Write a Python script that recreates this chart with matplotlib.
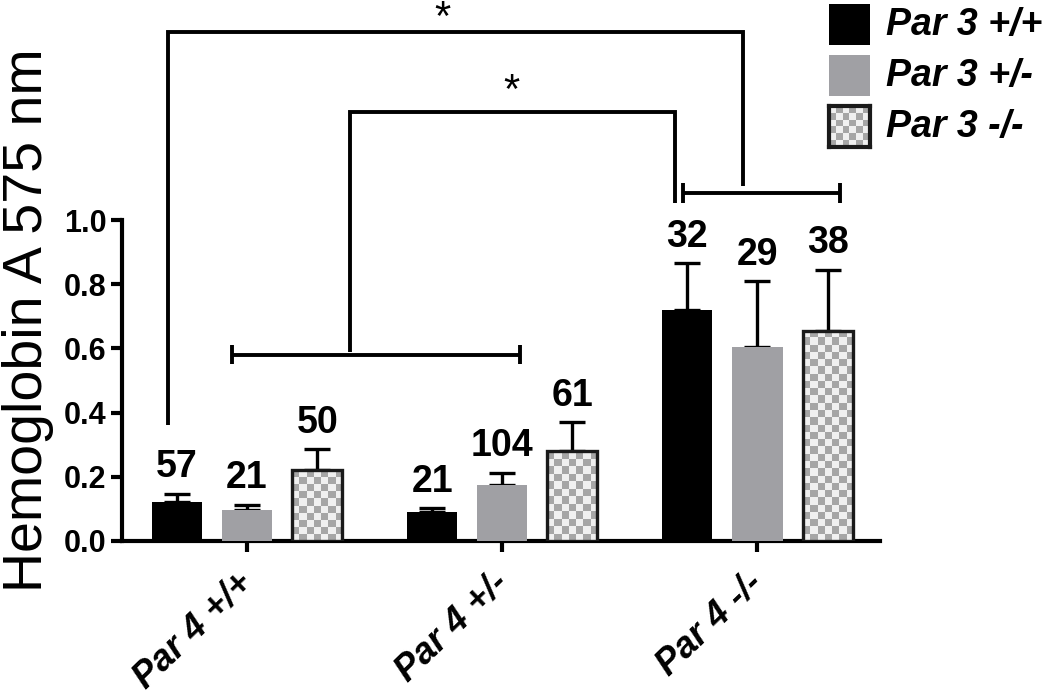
import numpy as np
import matplotlib
matplotlib.use("Agg")
import matplotlib.pyplot as plt
from matplotlib.patches import Rectangle
from matplotlib.colors import ListedColormap
import matplotlib.transforms as mtransforms

plt.rcParams['font.family'] = ['Liberation Sans', 'DejaVu Sans']

groups = ["Par 4 +/+", "Par 4 +/-", "Par 4 -/-"]
series = ["Par 3 +/+", "Par 3 +/-", "Par 3 -/-"]
means = {
    "Par 3 +/+": [0.12, 0.09, 0.72],
    "Par 3 +/-": [0.097, 0.175, 0.605],
    "Par 3 -/-": [0.22, 0.28, 0.655],
}
err_top = {
    "Par 3 +/+": [0.147, 0.102, 0.865],
    "Par 3 +/-": [0.113, 0.213, 0.81],
    "Par 3 -/-": [0.287, 0.37, 0.845],
}
counts = {
    "Par 3 +/+": [57, 21, 32],
    "Par 3 +/-": [21, 104, 29],
    "Par 3 -/-": [50, 61, 38],
}
yticks = [0.0, 0.2, 0.4, 0.6, 0.8, 1.0]

GREY = '#a0a0a4'
CHK_DARK = '#a6a6a6'
CHK_LIGHT = '#f0f0f0'

fig = plt.figure(figsize=(10.5, 6.99), dpi=100)
ax = fig.add_axes([122/1050, 1-541/699, (880-122)/1050, (541-220)/699])

x = np.arange(len(groups))
offset = 0.275
width = 0.196

def checker(nx, ny):
    return (np.add.outer(np.arange(ny), np.arange(nx)) % 2).astype(float)

cmap = ListedColormap([CHK_LIGHT, CHK_DARK])

for i, s in enumerate(series):
    xs = x + (i - 1) * offset
    m = np.array(means[s])
    e = np.array(err_top[s]) - m
    ax.errorbar(xs, m, yerr=[np.zeros_like(m), e], fmt='none', ecolor='black',
                elinewidth=2.4, capsize=9.5, capthick=2.4, zorder=2)
    if i == 0:
        ax.bar(xs, m, width, color='black', edgecolor='none', zorder=3)
    elif i == 1:
        ax.bar(xs, m, width, color=GREY, edgecolor='none', zorder=3)
    else:
        bars = ax.bar(xs, m, width, color=CHK_LIGHT, edgecolor='none', zorder=3)
        for b, h in zip(bars, m):
            ny = max(1, int(round(h * 321 / 7.2)))
            im = ax.imshow(checker(7, ny), cmap=cmap, interpolation='nearest',
                           extent=(b.get_x(), b.get_x() + b.get_width(), 0, h),
                           aspect='auto', zorder=3.5, origin='lower')
            im.set_clip_path(b)
            ax.add_patch(Rectangle((b.get_x(), 0), b.get_width(), h,
                                   fill=False, edgecolor='#1a1a1a', linewidth=2.4,
                                   zorder=4))
    for xi, t, c in zip(xs, err_top[s], counts[s]):
        ax.annotate(str(c), (xi, t), xytext=(0, 6), textcoords='offset points',
                    ha='center', va='bottom', fontsize=27, fontweight='bold')

ax.set_xlim(-0.49, 2.48)
ax.set_ylim(0, 1.0)

for sp in ['top', 'right']:
    ax.spines[sp].set_visible(False)
for sp in ['left', 'bottom']:
    ax.spines[sp].set_linewidth(3)
ax.set_yticks(yticks)
ax.set_yticklabels([f"{v:.1f}" for v in yticks], fontsize=22, fontweight='bold')
ax.set_xticks(x)
ax.set_xticklabels(groups, fontsize=26, fontweight='bold', fontstyle='italic',
                   rotation=44, ha='right', rotation_mode='anchor')
ax.tick_params(axis='both', length=8, width=3, pad=3)
ax.tick_params(axis='x', pad=8)
shift = mtransforms.ScaledTranslation(-12/100, -2/100, fig.dpi_scale_trans)
for lab in ax.get_xticklabels():
    lab.set_transform(lab.get_transform() + shift)
ax.set_ylabel("Hemoglobin A 575 nm", fontsize=40)
ax.yaxis.set_label_coords((54-122)/758, (541-320)/321)

# significance brackets
lw = 2.8
def line(xx, yy):
    ax.plot(xx, yy, color='black', lw=lw, clip_on=False, solid_capstyle='butt',
            solid_joinstyle='miter', zorder=5)

line([-0.31, -0.31, 1.945, 1.945], [0.36, 1.586, 1.586, 1.106])
line([0.404, 0.404, 1.675, 1.675], [0.59, 1.336, 1.336, 1.053])
line([-0.059, 1.07], [0.58, 0.58])
line([-0.059, -0.059], [0.55, 0.61])
line([1.07, 1.07], [0.55, 0.61])
line([1.71, 2.325], [1.084, 1.084])
line([1.71, 1.71], [1.053, 1.115])
line([2.325, 2.325], [1.053, 1.115])
ax.text(0.765, 1.625, "*", fontsize=30, ha='center', va='center', clip_on=False)
ax.text(1.035, 1.40, "*", fontsize=30, ha='center', va='center', clip_on=False)

# legend
for i, s in enumerate(series):
    top = 4 + i * 51
    lax = fig.add_axes([829/1050, 1 - (top + 41)/699, 41/1050, 41/699])
    lax.set_xticks([]); lax.set_yticks([])
    if i == 0:
        lax.set_facecolor('black')
        for sp in lax.spines.values():
            sp.set_visible(False)
    elif i == 1:
        lax.set_facecolor(GREY)
        for sp in lax.spines.values():
            sp.set_visible(False)
    else:
        lax.imshow(checker(6, 6), cmap=cmap, interpolation='nearest', aspect='auto')
        for sp in lax.spines.values():
            sp.set_linewidth(3)
            sp.set_edgecolor('#1a1a1a')
    fig.text(886/1050, 1 - (top + 21)/699, s, fontsize=27, fontweight='bold',
             fontstyle='italic', ha='left', va='center')

fig.savefig("out.png", dpi=100)
